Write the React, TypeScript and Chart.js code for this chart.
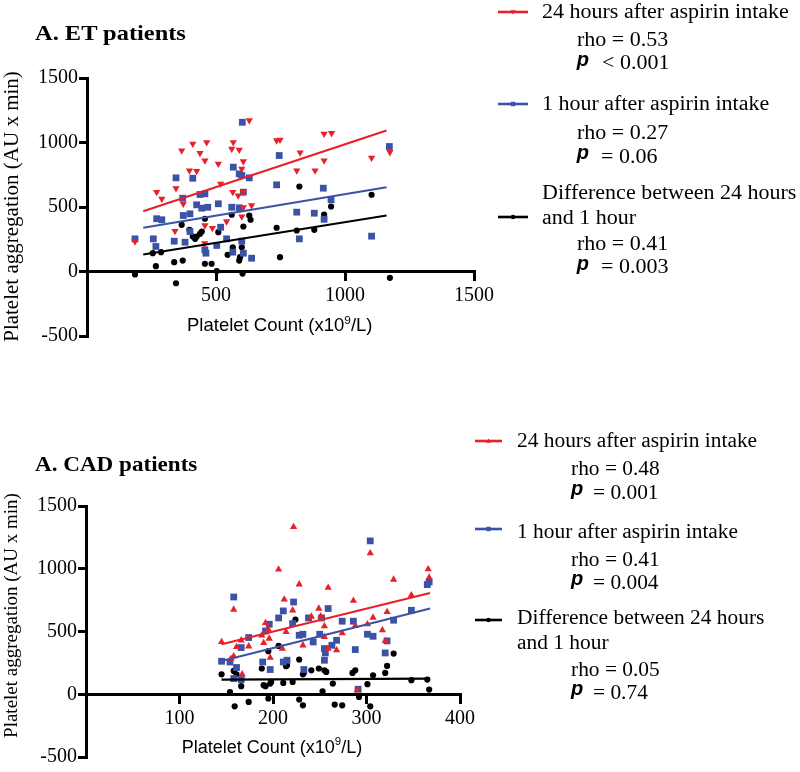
import React, { useEffect, useRef } from 'react';
import { Chart, registerables } from 'chart.js';

Chart.register(...registerables);

const RED = '#e8202a';
const BLUE = '#3b52a5';
const BLACK = '#000000';
const SERIF = '"Liberation Serif", "Times New Roman", serif';
const SANS = '"Liberation Sans", Arial, sans-serif';

// ---------- A. ET patients ----------
const etH24X = [186, 270, 290, 345, 341, 367, 373, 397, 410, 425, 438, 464, 457, 456, 486, 509, 518, 541, 561, 567, 565, 590, 586, 606, 600, 606, 606, 600, 638, 629, 735, 748, 826, 813, 884, 919, 919, 948, 1103, 1174, 457];
const etH24Y = [233, 615, 564, 645, 313, 938, 525, 783, 990, 778, 917, 1002, 860, 219, 336, 835, 680, 388, 951, 1002, 615, 943, 589, 853, 796, 615, 498, 426, 512, 1171, 1016, 1021, 922, 783, 783, 860, 1067, 1072, 881, 925, 357];
const etH1X = [186, 257, 270, 290, 267, 345, 338, 371, 373, 380, 399, 410, 399, 425, 438, 445, 457, 461, 468, 503, 509, 518, 541, 565, 567, 590, 600, 602, 606, 600, 606, 629, 638, 457, 590, 561, 745, 735, 813, 823, 881, 916, 919, 946, 1103, 1172];
const etH1Y = [253, 253, 409, 401, 194, 726, 235, 568, 434, 227, 310, 723, 447, 517, 597, 491, 168, 142, 498, 202, 525, 343, 253, 150, 809, 494, 744, 1157, 615, 235, 142, 726, 103, 602, 757, 498, 899, 672, 460, 253, 452, 646, 405, 556, 274, 969];
const etDiffX = [186, 255, 267, 287, 338, 345, 371, 367, 397, 410, 419, 425, 438, 445, 457, 483, 503, 509, 545, 561, 565, 590, 593, 600, 603, 606, 629, 634, 457, 748, 735, 823, 813, 881, 919, 946, 1103, 1174];
const etDiffY = [-23, 142, 41, 150, 72, -91, 85, 362, 323, 271, 253, 271, 292, 310, 60, 60, 4, 305, 129, 440, 188, 85, 111, 188, -16, 349, 434, 401, 409, 111, 339, 659, 318, 323, 442, 504, 595, -49];
const etFitX = [218, 1161];
const etFitH24Y = [467, 1093];
const etFitH1Y = [339, 653];
const etFitDiffY = [132, 434];
const etXTicks = [0, 500, 1000, 1500];

// ---------- A. CAD patients ----------
const cadH24X = [145, 158, 161, 166, 174, 158, 167, 155, 188, 190, 192, 195, 196, 197, 206, 210, 212, 214, 222, 228, 232, 221, 241, 249, 251, 255, 255, 259, 259, 268, 274, 286, 288, 290, 301, 304, 307, 317, 322, 329, 348, 366, 367, 320];
const cadH24Y = [417, 675, 377, 430, 382, 303, 159, 284, 468, 409, 568, 516, 444, 291, 994, 364, 755, 496, 1333, 876, 390, 669, 619, 683, 622, 542, 457, 850, 364, 351, 486, 745, 546, 32, 558, 1124, 611, 510, 656, 914, 789, 996, 930, 425];
const cadH1X = [158, 145, 154, 161, 166, 174, 158, 166, 189, 192, 196, 197, 206, 211, 211, 215, 222, 221, 228, 232, 233, 238, 243, 250, 252, 259, 255, 256, 255, 263, 268, 274, 286, 288, 291, 301, 304, 307, 320, 322, 329, 348, 365, 367];
const cadH1Y = [775, 263, 257, 213, 372, 452, 125, 117, 257, 504, 558, 197, 608, 664, 257, 271, 735, 563, 470, 478, 197, 608, 417, 478, 608, 683, 364, 329, 271, 390, 430, 582, 582, 356, 40, 478, 1222, 462, 329, 425, 590, 669, 874, 895];
const cadDiffX = [145, 158, 161, 154, 166, 159, 174, 188, 190, 195, 195, 198, 206, 211, 215, 221, 224, 228, 228, 232, 233, 241, 249, 253, 255, 257, 264, 266, 274, 285, 288, 292, 301, 304, 307, 320, 322, 329, 348, 365, 367, 214, 197, 192, 232];
const cadDiffY = [159, 186, 159, 18, 64, -96, -61, 205, 72, 343, -34, 98, 385, 90, 231, 98, 595, 276, -42, -88, 170, 191, 205, 24, 191, 178, 85, -82, -88, 170, 191, -21, 80, -96, 151, 170, 226, 324, 112, 117, 37, 223, 85, 64, 159];
const cadFitX = [145, 368];
const cadFitH24Y = [398, 807];
const cadFitH1Y = [265, 683];
const cadFitDiffY = [117, 125];
const cadXTicks = [0, 100, 200, 300, 400];

const yTicks = [-500, 0, 500, 1000, 1500];

const pts = (xs: number[], ys: number[]) => xs.map((x, i) => ({ x, y: ys[i] }));

type PanelProps = {
  left: number;
  top: number;
  width: number;
  height: number;
  pad: { top: number; right: number; bottom: number };
  axisW: number;
  xTicks: number[];
  h24: [number[], number[]];
  h1: [number[], number[]];
  diff: [number[], number[]];
  fitX: number[];
  fitH24: number[];
  fitH1: number[];
  fitDiff: number[];
  triRot: number;
};

function ScatterPanel(p: PanelProps) {
  const ref = useRef<HTMLCanvasElement>(null);
  useEffect(() => {
    const tickFont = { family: SERIF, size: 20 };
    const grid = { display: true, drawOnChartArea: false, drawTicks: true, tickLength: 8, color: '#000', lineWidth: 3 };
    const border = { display: true, color: '#000', width: 3 };
    const fitLine = (ys: number[], color: string) => ({
      type: 'line' as const,
      data: pts(p.fitX, ys),
      borderColor: color,
      borderWidth: 2.2,
      pointRadius: 0,
      fill: false,
      showLine: true,
    });
    const chart = new Chart(ref.current as HTMLCanvasElement, {
      type: 'scatter',
      data: {
        datasets: [
          fitLine(p.fitH24, RED),
          fitLine(p.fitH1, BLUE),
          fitLine(p.fitDiff, BLACK),
          {
            data: pts(p.h24[0], p.h24[1]),
            pointStyle: 'triangle',
            rotation: p.triRot,
            pointRadius: 4.2,
            backgroundColor: RED,
            borderWidth: 0,
          },
          {
            data: pts(p.h1[0], p.h1[1]),
            pointStyle: 'rect',
            pointRadius: 4.8,
            backgroundColor: BLUE,
            borderWidth: 0,
          },
          {
            data: pts(p.diff[0], p.diff[1]),
            pointStyle: 'circle',
            pointRadius: 3.1,
            backgroundColor: BLACK,
            borderWidth: 0,
          },
        ] as any,
      },
      options: {
        animation: false,
        responsive: false,
        maintainAspectRatio: false,
        events: [],
        layout: { padding: { left: 0, top: p.pad.top, right: p.pad.right, bottom: p.pad.bottom } },
        plugins: { legend: { display: false }, tooltip: { enabled: false }, title: { display: false } },
        scales: {
          x: {
            type: 'linear',
            min: p.xTicks[0],
            max: p.xTicks[p.xTicks.length - 1],
            position: { y: 0 } as any,
            afterBuildTicks: (s: any) => {
              s.ticks = p.xTicks.map((v) => ({ value: v }));
            },
            ticks: {
              callback: (v: any) => (v === 0 ? '' : String(v)),
              font: tickFont,
              color: '#000',
              padding: 4,
              maxRotation: 0,
              autoSkip: false,
            },
            grid,
            border,
          },
          y: {
            type: 'linear',
            position: 'left',
            min: yTicks[0],
            max: yTicks[yTicks.length - 1],
            afterBuildTicks: (s: any) => {
              s.ticks = yTicks.map((v) => ({ value: v }));
            },
            afterFit: (s: any) => {
              s.width = p.axisW;
            },
            ticks: {
              callback: (v: any) => String(v),
              font: tickFont,
              color: '#000',
              padding: 1,
              autoSkip: false,
            },
            grid,
            border,
          },
        },
      } as any,
    });
    return () => chart.destroy();
  }, []);
  return (
    <canvas
      ref={ref}
      width={p.width}
      height={p.height}
      style={{ position: 'absolute', left: p.left, top: p.top, width: p.width, height: p.height }}
    />
  );
}

type TProps = {
  x: number;
  base: number;
  size: number;
  sans?: boolean;
  bold?: boolean;
  italic?: boolean;
  sx?: number;
  children: React.ReactNode;
};

function T({ x, base, size, sans, bold, italic, sx = 1, children }: TProps) {
  const asc = sans ? 0.8465 : 0.8375;
  return (
    <div
      style={{
        position: 'absolute',
        left: x,
        top: base - asc * size,
        fontFamily: sans ? SANS : SERIF,
        fontSize: size,
        lineHeight: `${size}px`,
        height: size,
        whiteSpace: 'nowrap',
        fontWeight: bold ? 'bold' : 'normal',
        fontStyle: italic ? 'italic' : 'normal',
        transform: sx !== 1 ? `scaleX(${sx})` : undefined,
        transformOrigin: 'left top',
        color: '#000',
      }}
    >
      {children}
    </div>
  );
}

function YTitle({ cx, cy, size }: { cx: number; cy: number; size: number }) {
  return (
    <div
      style={{
        position: 'absolute',
        left: cx - 200,
        top: cy - size / 2,
        width: 400,
        height: size,
        lineHeight: `${size}px`,
        fontSize: size,
        fontFamily: SERIF,
        textAlign: 'center',
        whiteSpace: 'nowrap',
        transform: 'rotate(-90deg)',
        transformOrigin: 'center center',
        color: '#000',
      }}
    >
      Platelet aggregation (AU x min)
    </div>
  );
}

function XTitle({ x, base, size }: { x: number; base: number; size: number }) {
  return (
    <T x={x} base={base} size={size} sans>
      Platelet Count (x10
      <span style={{ fontSize: size * 0.64, position: 'relative', top: -size * 0.42 }}>9</span>
      /L)
    </T>
  );
}

function LegendLine({ x, y, w, color, kind, down }: { x: number; y: number; w: number; color: string; kind: 'tri' | 'sq' | 'dot'; down?: boolean }) {
  const c = w / 2;
  let marker: React.ReactNode = null;
  if (kind === 'tri') {
    marker = down ? (
      <polygon points={`${c - 2.6},3.2 ${c + 2.6},3.2 ${c},7.4`} fill={color} />
    ) : (
      <polygon points={`${c - 2.6},6.8 ${c + 2.6},6.8 ${c},2.6`} fill={color} />
    );
  } else if (kind === 'sq') {
    marker = <rect x={c - 2.2} y={2.8} width={4.4} height={4.4} fill={color} />;
  } else {
    marker = <circle cx={c} cy={5} r={2.2} fill={color} />;
  }
  return (
    <svg style={{ position: 'absolute', left: x, top: y - 5 }} width={w} height={10}>
      <line x1={0} y1={5} x2={w} y2={5} stroke={color} strokeWidth={2.6} />
      {marker}
    </svg>
  );
}

function PLine({ px, ox, base, size, sx, rest }: { px: number; ox: number; base: number; size: number; sx: number; rest: string }) {
  return (
    <>
      <T x={px} base={base - 3} size={size} sans italic bold>
        p
      </T>
      <T x={ox} base={base} size={size} sx={sx}>
        {rest}
      </T>
    </>
  );
}

export default function App() {
  const s1 = 1.1;
  const s2 = 1.07;
  return (
    <div
      style={{
        position: 'absolute',
        left: 0,
        top: 0,
        width: 800,
        height: 772,
        background: '#fff',
        overflow: 'hidden',
      }}
    >
      <ScatterPanel
        left={0}
        top={0}
        width={520}
        height={360}
        pad={{ top: 78, right: 46, bottom: 24 }}
        axisW={87}
        xTicks={etXTicks}
        h24={[etH24X, etH24Y]}
        h1={[etH1X, etH1Y]}
        diff={[etDiffX, etDiffY]}
        fitX={etFitX}
        fitH24={etFitH24Y}
        fitH1={etFitH1Y}
        fitDiff={etFitDiffY}
        triRot={180}
      />
      <ScatterPanel
        left={0}
        top={400}
        width={500}
        height={372}
        pad={{ top: 106, right: 40, bottom: 15 }}
        axisW={86}
        xTicks={cadXTicks}
        h24={[cadH24X, cadH24Y]}
        h1={[cadH1X, cadH1Y]}
        diff={[cadDiffX, cadDiffY]}
        fitX={cadFitX}
        fitH24={cadFitH24Y}
        fitH1={cadFitH1Y}
        fitDiff={cadFitDiffY}
        triRot={0}
      />

      {/* titles */}
      <T x={35} base={40.7} size={22} bold sx={1.11}>
        A. ET patients
      </T>
      <T x={35} base={471.7} size={21} bold sx={1.1}>
        A. CAD patients
      </T>

      {/* axis titles */}
      <YTitle cx={10.9} cy={206.5} size={21} />
      <YTitle cx={9.6} cy={615} size={19} />
      <XTitle x={187} base={332} size={18.5} />
      <XTitle x={181.7} base={753} size={18} />

      {/* legend ET */}
      <LegendLine x={498} y={11.7} w={30} color={RED} kind="tri" down />
      <T x={541.7} base={17.3} size={20} sx={s1}>24 hours after aspirin intake</T>
      <T x={576.7} base={46} size={20} sx={s1}>rho = 0.53</T>
      <PLine px={576.7} ox={601.7} base={69} size={20} sx={s1} rest="< 0.001" />
      <LegendLine x={498} y={104.3} w={30} color={BLUE} kind="sq" />
      <T x={541.7} base={110} size={20} sx={s1}>1 hour after aspirin intake</T>
      <T x={576.7} base={139} size={20} sx={s1}>rho = 0.27</T>
      <PLine px={576.7} ox={600.7} base={162.3} size={20} sx={s1} rest="= 0.06" />
      <T x={541.7} base={199} size={20} sx={s1}>Difference between 24 hours</T>
      <LegendLine x={498} y={216.7} w={30} color={BLACK} kind="dot" />
      <T x={541.7} base={223.3} size={20} sx={s1}>and 1 hour</T>
      <T x={576.7} base={250} size={20} sx={s1}>rho = 0.41</T>
      <PLine px={576.7} ox={600.7} base={272.7} size={20} sx={s1} rest="= 0.003" />

      {/* legend CAD */}
      <LegendLine x={475} y={440.7} w={27} color={RED} kind="tri" />
      <T x={516.7} base={446.7} size={20} sx={s2}>24 hours after aspirin intake</T>
      <T x={571} base={475} size={20} sx={s2}>rho = 0.48</T>
      <PLine px={571} ox={593.3} base={498.3} size={20} sx={s2} rest="= 0.001" />
      <LegendLine x={475} y={529.3} w={27} color={BLUE} kind="sq" />
      <T x={516.7} base={537.3} size={20} sx={s2}>1 hour after aspirin intake</T>
      <T x={571} base={565.7} size={20} sx={s2}>rho = 0.41</T>
      <PLine px={571} ox={593.3} base={588.3} size={20} sx={s2} rest="= 0.004" />
      <LegendLine x={475} y={620} w={27} color={BLACK} kind="dot" />
      <T x={516.7} base={624} size={20} sx={s2}>Difference between 24 hours</T>
      <T x={516.7} base={648.3} size={20} sx={s2}>and 1 hour</T>
      <T x={571} base={676} size={20} sx={s2}>rho = 0.05</T>
      <PLine px={571} ox={593.3} base={698.3} size={20} sx={s2} rest="= 0.74" />
    </div>
  );
}
